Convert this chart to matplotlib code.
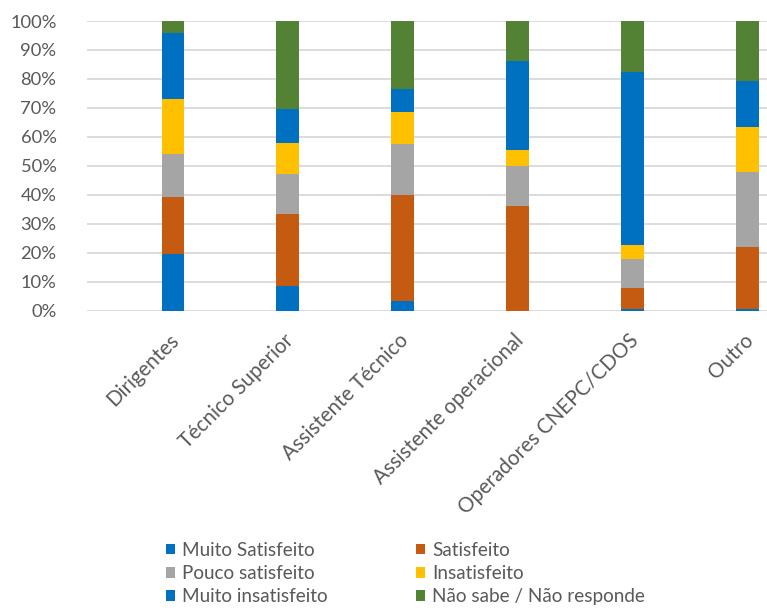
import matplotlib.pyplot as plt
import numpy as np
from matplotlib.patches import Patch
from matplotlib.transforms import ScaledTranslation

plt.rcParams['font.family'] = ['Lato', 'DejaVu Sans']

categorias = ['Dirigentes', 'Técnico Superior', 'Assistente Técnico',
              'Assistente operacional', 'Operadores CNEPC/CDOS', 'Outro']

# percentagens por grupo profissional
muito_satisfeito = [19.7, 8.6, 3.2, 0.0, 0.5, 0.5]
satisfeito = [19.7, 24.8, 36.7, 36.0, 7.3, 21.6]
pouco_satisfeito = [14.8, 13.9, 17.6, 14.1, 9.9, 25.9]
insatisfeito = [18.8, 10.7, 11.0, 5.5, 5.0, 15.5]
muito_insatisfeito = [23.0, 11.5, 8.1, 30.5, 59.6, 15.7]
nao_sabe = [4.0, 30.5, 23.4, 13.9, 17.7, 20.8]

series = [
    ('Muito Satisfeito', muito_satisfeito, '#0070C0'),
    ('Satisfeito', satisfeito, '#C55A11'),
    ('Pouco satisfeito', pouco_satisfeito, '#A5A5A5'),
    ('Insatisfeito', insatisfeito, '#FFC000'),
    ('Muito insatisfeito', muito_insatisfeito, '#0070C0'),
    ('Não sabe / Não responde', nao_sabe, '#548235'),
]

fig = plt.figure(figsize=(7.67, 6.08), dpi=100)
ax = fig.add_axes([87 / 767, 297.3 / 608, 680 / 767, 289.7 / 608])

x = np.arange(len(categorias))
base = np.zeros(len(categorias))
for nome, vals, cor in series:
    vals = np.array(vals) / 100
    ax.bar(x, vals, 0.2, bottom=base, color=cor, label=nome, zorder=3)
    base += vals

ax.set_ylim(0, 1)
ax.set_xlim(-0.749, 5.174)
ax.set_yticks(np.arange(0, 1.01, 0.1))
ax.set_yticklabels([f'{int(round(v * 100))}%' for v in np.arange(0, 1.01, 0.1)])
ax.grid(axis='y', color='#D9D9D9', linewidth=1.3, zorder=0)
for s in ax.spines.values():
    s.set_visible(False)
ax.tick_params(axis='y', length=0, pad=22, labelsize=13.2, labelcolor='#595959')
ax.tick_params(axis='x', length=0, pad=14)
ax.set_xticks(x)
ax.set_xticklabels(categorias, rotation=45, ha='right', rotation_mode='anchor',
                   fontsize=14.8, color='#595959')
# rótulos rodados ligeiramente para a esquerda
desloc = ScaledTranslation(-4 / 100, 0, fig.dpi_scale_trans)
for lbl in ax.get_xticklabels():
    lbl.set_transform(lbl.get_transform() + desloc)

# legenda em duas colunas, lida por linhas
ordem = [0, 2, 4, 1, 3, 5]
handles = [Patch(facecolor=series[i][2]) for i in ordem]
labels = [series[i][0] for i in ordem]
fig.legend(handles, labels, ncol=2, frameon=False, loc='lower left',
           bbox_to_anchor=(163 / 767, 0.0), fontsize=13.6, labelcolor='#595959',
           handlelength=0.5, handleheight=0.5, handletextpad=0.37,
           columnspacing=4.65, labelspacing=0.33, borderpad=0.15,
           borderaxespad=0)

fig.savefig('out.png', dpi=100)
